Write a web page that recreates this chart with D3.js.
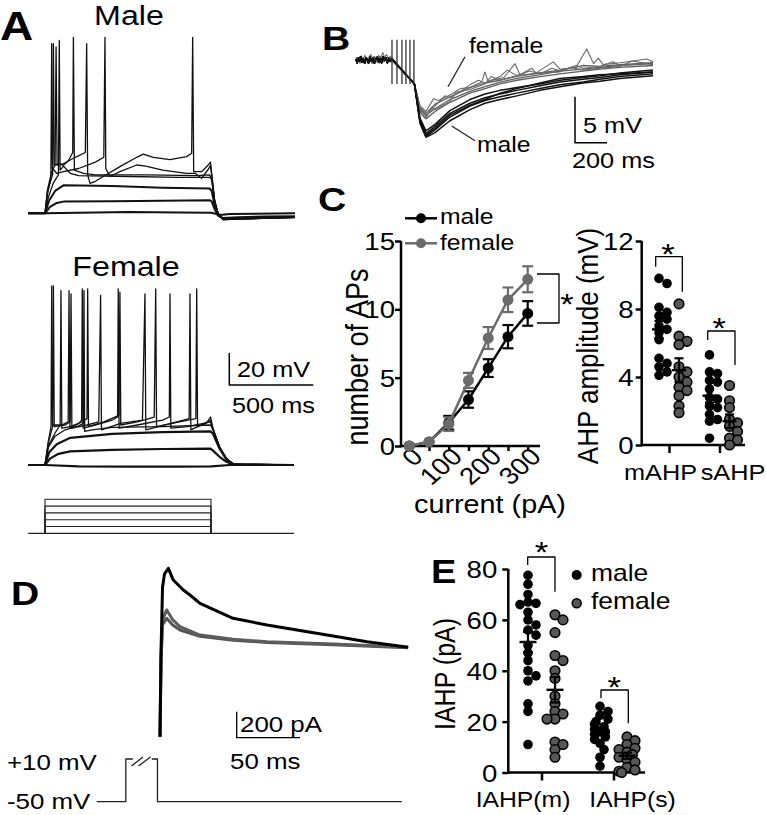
<!DOCTYPE html>
<html><head><meta charset="utf-8">
<script src="https://cdn.jsdelivr.net/npm/d3@7/dist/d3.min.js"></script>
<style>
body{margin:0;background:#fff}
svg text{font-family:"Liberation Sans",Arial,Helvetica,sans-serif;fill:#000}
</style>
</head><body>
<svg id="c" width="766" height="815"></svg>
<script>
// ================= DATA =================
// Panel A: current-clamp traces, [time ms, mV above rest]
const aMaleTraces = [
  [[-100,0],[0,0],[200,0.3],[500,0.8],[800,0.5],[990,0.3],[1040,-1],[1100,-0.5],[1488,0]],
  [[-100,0],[0,0],[30,4],[70,6.5],[110,7.3],[400,7.6],[700,7.8],[980,8.2],[992,7.5],[1010,2.5],[1030,-1.5],[1060,-3],[1150,-2.5],[1300,-2],[1488,-1.8]],
  [[-100,0],[0,0],[25,8],[60,14],[110,17.5],[400,17],[700,16],[980,15.5],[992,14],[1010,5],[1030,-1],[1060,-3.5],[1200,-3],[1488,-2.5]],
  [[-100,0],[0,0],[20,10],[50,19],[80,24],[85,108],[90,27],[110,29.5],[150,25],[200,23.5],[500,23],[800,22.5],[980,22.5],[992,21],[1010,7],[1030,0],[1060,-3.5],[1200,-3],[1488,-2.5]],
  [[-100,0],[0,0],[15,12],[35,22],[40,106],[44,28],[70,25],[110,26],[200,28],[300,32],[350,35],[357,110],[362,28],[387,23],[446,26],[546,30.2],[600,29.5],[700,27],[843,25],[893,25],[932,21.9],[975,28],[985,30],[992,24],[1010,8],[1030,0],[1060,-4],[1488,-2.5]],
  [[-100,0],[0,0],[15,14],[45,24],[50,106],[55,30],[80,31],[110,30],[140,33],[165,38],[169,110],[175,27],[230,25],[268,24.5],[300,24],[600,24],[900,23.5],[980,24],[992,22],[1010,7],[1030,0],[1060,-4],[1488,-2.5]],
  [[-100,0],[0,0],[15,15],[40,26],[60,30],[66,104],[72,30],[110,31],[180,35],[240,38],[248,106],[254,24],[268,18.7],[300,20],[347,23],[446,29.2],[546,35],[585,37],[645,35],[744,33.5],[843,35.4],[873,37.5],[879,110],[885,26],[932,26],[970,30],[985,32],[992,25],[1010,8],[1030,0],[1060,-4],[1488,-2.5]]
];
const aFemaleTraces = [
  [[-100,0],[0,0],[200,-0.8],[500,-1],[800,-1],[990,-0.8],[1100,0],[1482,0]],
  [[-100,0],[0,0],[30,4],[80,7],[150,8.5],[400,9.5],[700,10],[985,10.2],[1000,9],[1040,5],[1080,2],[1120,0.3],[1482,0]],
  [[-100,0],[0,0],[25,8],[70,13],[150,17],[400,19.5],[700,20.5],[985,21],[1000,19.5],[1040,10],[1080,3.5],[1121,0.5],[1200,0],[1482,0]],
  [[-100,0],[0,0],[20,11],[60,18],[120,22],[200,24.5],[228,26],[232,109],[236,21],[280,22],[400,23.5],[700,24],[985,25],[1000,22],[1040,11],[1080,4],[1121,0.5],[1482,0]],
  [[-100,0],[0,0],[20,12],[60,20],[90,25],[95,109],[100,23],[150,24],[200,26],[218,28],[222,110],[227,23],[300,25],[400,28],[432,30],[436,110],[441,23],[550,25],[700,28],[740,30],[744,107],[749,23],[850,24],[985,27],[1000,22],[1040,11],[1080,4],[1121,0.5],[1482,0]],
  [[-100,0],[0,0],[20,14],[45,24],[50,112],[55,24],[120,25],[150,27],[155,107],[160,23],[250,25],[320,27],[331,106],[336,22],[450,26],[580,28],[595,107],[600,22],[750,26],[858,29],[863,107],[868,22],[950,26],[985,28],[1000,22],[1040,11],[1080,4],[1121,0.5],[1482,0]],
  [[-100,0],[0,0],[20,15],[36,24],[40,112],[45,25],[100,25],[138,27],[143,109],[148,23],[220,27],[250,29],[254,110],[259,24],[350,27],[440,31],[446,108],[451,25],[550,27],[650,30],[659,110],[664,24],[800,27],[898,29],[903,110],[908,24],[960,26],[985,30],[1000,23],[1040,11],[1080,4],[1121,0.5],[1482,0]]
];
const stepCurrents = [50,100,150,200,250];

// Panel B: AHP traces [ms, mV]
const bStimTimes = [0,31,62,87,112,137];
const bTimes = [140,175,212,269,362,487,581,675,781,925,1050,1194,1300,1425,1631];
const bMaleValues = [
  [-2.6,-6.8,-8.3,-7.6,-6.2,-5.0,-4.4,-4.0,-3.6,-3.1,-2.7,-2.4,-2.1,-1.8,-1.5],
  [-2.6,-6.5,-8.0,-7.2,-5.8,-4.7,-4.1,-3.7,-3.3,-2.8,-2.4,-2.1,-1.9,-1.6,-1.3],
  [-2.6,-6.9,-8.4,-7.9,-6.6,-5.4,-4.7,-4.3,-3.9,-3.3,-2.9,-2.5,-2.3,-2.0,-1.7],
  [-2.6,-6.3,-7.7,-7.0,-5.5,-4.3,-3.7,-3.3,-3.0,-2.6,-2.2,-1.9,-1.7,-1.4,-1.1],
  [-2.6,-6.6,-8.2,-7.4,-6.0,-4.9,-4.3,-3.6,-3.1,-2.5,-2.0,-1.8,-1.6,-1.5,-1.3]
];
const bFemaleValues = [
  [-2.6,-5.4,-6.0,-5.3,-4.3,-3.4,-2.9,-2.4,-2.0,-1.6,-1.2,-1.0,-0.8,-0.6,-0.4],
  [-2.6,-5.7,-6.4,-5.6,-4.6,-3.6,-3.1,-2.6,-2.2,-1.8,-1.5,-1.2,-1.0,-0.8,-0.6],
  [-2.6,-5.2,-5.8,-4.8,-4.0,-3.0,-2.5,-2.2,-1.7,-1.4,-1.1,-0.6,-0.7,-0.5,-0.3]
];
const bBaseline = [[-225,0.1],[-218,-0.3],[-211,0.2],[-204,-0.1],[-196,0.35],[-188,-0.25],[-180,0.15],[-171,-0.35],[-163,0.25],[-154,0.05],[-146,-0.3],[-137,0.3],[-128,-0.15],[-119,0.2],[-110,-0.35],[-101,0.1],[-92,0.3],[-83,-0.2],[-74,0.15],[-65,-0.3],[-56,0.35],[-47,-0.05],[-38,0.25],[-29,-0.3],[-20,0.2],[-11,-0.15],[0,0.1]];
const bFemaleNoisy = [
  [[-225,-0.2],[-214,0.3],[-205,-0.1],[-192,0.45],[-181,0.0],[-170,0.5],[-158,-0.1],[-146,0.3],[-133,0.6],[-121,0.1],[-108,0.4],[-96,-0.2],[-84,0.5],[-71,0.2],[-58,0.8],[-46,0.3],[-34,0.6],[-22,0.1],[-10,0.4],[0,0.2],[140,-2.6],[175,-5.0],[212,-5.6],[260,-4.2],[290,-4.4],[362,-3.8],[430,-3.1],[487,-3.0],[560,-2.4],[581,-1.3],[600,-2.3],[700,-1.9],[769,-0.4],[800,-1.6],[873,-0.9],[900,-1.4],[1008,-0.2],[1050,-1.0],[1150,-0.8],[1217,1.2],[1260,-0.4],[1289,0.2],[1320,-0.5],[1425,-0.3],[1592,0.1],[1631,-0.2]],
  [[-225,0.3],[-210,-0.2],[-198,0.4],[-186,0.1],[-173,-0.3],[-161,0.3],[-149,-0.1],[-136,0.2],[-124,-0.4],[-112,0.3],[-99,0.0],[-87,-0.3],[-75,0.4],[-62,0.1],[-50,-0.2],[-37,0.3],[-25,-0.1],[-12,0.2],[0,0],[140,-2.6],[175,-5.3],[212,-6.1],[269,-5.0],[330,-3.9],[362,-4.1],[430,-3.4],[487,-2.7],[540,-2.2],[581,-2.5],[675,-1.8],[720,-1.1],[781,-1.7],[860,-1.2],[925,-1.5],[1000,-0.9],[1050,-1.2],[1150,-0.6],[1194,-0.9],[1300,-0.7],[1380,-0.2],[1425,-0.6],[1631,-0.3]],
  [[-225,-0.1],[-212,0.2],[-200,-0.35],[-188,0.25],[-176,-0.2],[-163,0.1],[-151,-0.4],[-139,0.15],[-126,-0.2],[-114,0.35],[-102,-0.1],[-89,0.1],[-77,-0.35],[-65,0.2],[-52,-0.1],[-40,0.3],[-27,-0.25],[-14,0.1],[0,-0.1],[140,-2.6],[175,-5.6],[212,-6.3],[250,-5.1],[269,-5.4],[362,-4.5],[400,-3.5],[487,-3.2],[581,-2.6],[620,-1.8],[675,-2.2],[781,-1.8],[925,-1.4],[1050,-1.3],[1120,-0.8],[1194,-1.1],[1300,-0.9],[1425,-0.7],[1500,-0.1],[1631,-0.5]]
];

// Panel C (left): number of APs vs current
const currents = [0,50,100,150,200,250,300];
const apMaleMean = [0,0.3,1.7,3.4,5.7,8.0,9.7];
const apMaleSem = [0,0.1,0.5,0.6,0.65,0.85,0.9];
const apFemaleMean = [0,0.3,1.6,4.8,7.9,10.7,12.2];
const apFemaleSem = [0,0.1,0.5,0.55,0.8,0.9,0.95];
const apTicks = [0,5,10,15];
const currentTickLabels = [0,100,200,300];

// Panel C (right): AHP amplitude (mV)
const ahpCategories = ["mAHP","sAHP"];
const mAHPMale = [9.8,9.5,8.1,7.8,7.6,7.4,7.0,6.8,6.6,6.2,5.1,4.8,4.6,4.3,4.1];
const mAHPFemale = [8.3,6.4,6.1,5.9,4.6,4.3,4.0,3.7,3.4,3.2,2.9,2.3,1.9];
const sAHPMale = [5.3,4.3,4.2,3.8,3.7,3.3,2.8,2.7,2.3,2.2,1.8,1.5,1.4,0.4];
const sAHPFemale = [3.5,2.6,2.2,1.5,1.3,1.1,0.8,0.4,0.3,0.0];
const ahpMean = [6.8,4.4,2.9,1.4];
const ahpSem = [0.5,0.7,0.4,0.4];
const ahpTicks = [0,4,8,12];

// Panel D: IAHP current traces [ms, pA]
const dMale = [[0,0],[0.8,650],[2,1150],[3.5,1250],[6.6,1295],[10.5,1205],[18.4,1128],[23.7,1090],[31.6,1026],[57.7,911],[84.5,859],[136.7,775],[163.5,731],[196,688]];
const dFemale1 = [[0,0],[0.8,600],[2,900],[5.3,975],[10,900],[15.8,846],[31.6,782],[57.7,749],[84.5,731],[136.7,713],[196,688]];
const dFemale2 = [[0,0],[0.8,580],[2,860],[5.3,911],[10,860],[15.8,821],[31.6,772],[57.7,742],[84.5,725],[136.7,708],[196,685]];
const dProtocolA = [[-50,-50],[-27,-50],[-27,10],[-21.5,10]];
const dProtocolB = [[-6.5,10],[-2,10],[-2,-50],[191,-50]];

// Panel E: IAHP (pA)
const iahpCategories = ["IAHP(m)","IAHP(s)"];
const iahpMMale = [77.5,74,70,67,66.5,66,63,60,58,56,54,50,47,44,40,38,36,27,24,11];
const iahpMFemale = [62,60,55,46,44,40,37,30,27,24,23,21,21,12,11,9,6];
const iahpSMale = [26,24,22.5,21,20,19,18,17,16,15,14,13,11.5,9,6,2.5];
const iahpSFemale = [14,12.5,11,9.5,9,8,7,6,5,4,2,1,0.5,0];
const iahpMean = [51.3,32.5,16,6.6];
const iahpSem = [4,5,1.5,1.2];
const iahpTicks = [0,20,40,60,80];

// ================= DRAWING =================
const SX = 1.15;
const GRAY = "#5e5e5e";
const svg = d3.select("#c");

function txt(g, x, y, s, size, o = {}) {
  const t = g.append("text")
    .attr("transform", `translate(${x},${y}) scale(${SX},1)` + (o.rot ? ` rotate(${o.rot})` : ""))
    .attr("font-size", size)
    .attr("text-anchor", o.anchor || "start")
    .text(s);
  if (o.weight) t.attr("font-weight", o.weight);
  if (o.fill) t.style("fill", o.fill);
  return t;
}
function star(g, cx, cy) { txt(g, cx, cy + 17, "*", 30, {anchor: "middle"}); }
function seg(g, x1, y1, x2, y2, w = 1.2, c = "#000") {
  g.append("line").attr("x1", x1).attr("y1", y1).attr("x2", x2).attr("y2", y2)
    .attr("stroke", c).attr("stroke-width", w);
}
function path(g, d, w, c) {
  return g.append("path").attr("d", d).attr("fill", "none").attr("stroke", c)
    .attr("stroke-width", w).attr("stroke-linejoin", "round");
}
function styleAxis(ax, size) {
  ax.selectAll("path.domain").remove();
  ax.selectAll(".tick line").attr("stroke", "#000").attr("stroke-width", 2.5);
  ax.selectAll(".tick text").attr("font-size", size).style("font-family", '"Liberation Sans",Arial,sans-serif');
}
function stretchLeftLabels(ax, spacing) {
  ax.selectAll(".tick text").attr("x", -spacing / SX).attr("transform", `scale(${SX},1)`);
}

// ---------- Panel letters ----------
txt(svg, 0, 40, "A", 40, {weight: "bold"});
txt(svg, 322, 50, "B", 34, {weight: "bold"});
txt(svg, 318, 211, "C", 34, {weight: "bold"});
txt(svg, 11, 605, "D", 34, {weight: "bold"});
txt(svg, 431, 583, "E", 33, {weight: "bold"});

// ---------- Panel A ----------
const gA = svg.append("g");
const xA = d3.scaleLinear().domain([0, 1000]).range([45, 213]);
const yAm = d3.scaleLinear().domain([0, 100]).range([213.3, 53.3]);
const yAf = d3.scaleLinear().domain([0, 100]).range([465, 305]);
txt(gA, 129, 25, "Male", 28, {anchor: "middle"});
txt(gA, 126, 276, "Female", 28, {anchor: "middle"});
const lineAm = d3.line().x(d => xA(d[0])).y(d => yAm(d[1]));
const lineAf = d3.line().x(d => xA(d[0])).y(d => yAf(d[1]));
aMaleTraces.forEach((tr, i) => path(gA, lineAm(tr), i < 3 ? 2 : 1.3, "#111"));
aFemaleTraces.forEach((tr, i) => path(gA, lineAf(tr), i < 3 ? 2.2 : 1.3, "#111"));
const yP = d3.scaleLinear().domain([0, 250]).range([533.3, 499.3]);
seg(gA, xA(-100), yP(0), xA(1482), yP(0), 1.2, "#222");
stepCurrents.forEach(c => {
  path(gA, `M${xA(0)},${yP(0)}V${yP(c)}H${xA(988)}V${yP(0)}`, 1.1, "#222");
});
{
  const x0 = 229.3, y0 = 385;
  path(gA, `M${x0},${y0 - Math.abs(yAf(0) - yAf(20))}V${y0}H${x0 + xA(500) - xA(0)}`, 1.5, "#000");
  txt(gA, 237, 376.7, "20 mV", 22);
  txt(gA, 232, 412.7, "500 ms", 22);
}

// ---------- Panel B ----------
const gB = svg.append("g");
const xB = d3.scaleLinear().domain([0, 1000]).range([392, 552]);
const yB = d3.scaleLinear().domain([0, -10]).range([60, 152]);
const lineB = d3.line().x(d => xB(d[0])).y(d => yB(d[1]));
bFemaleValues.forEach(vals => path(gB, lineB(bBaseline.concat(bTimes.map((t, i) => [t, vals[i]]))), 1.3, GRAY));
bFemaleNoisy.forEach(tr => path(gB, lineB(tr), 1.1, "#6a6a6a"));
bMaleValues.forEach(vals => path(gB, lineB(bBaseline.concat(bTimes.map((t, i) => [t, vals[i]]))), 1.5, "#111"));
bStimTimes.forEach(t => seg(gB, xB(t), yB(2.2), xB(t), yB(-2.6), 1.3, "#333"));
seg(gB, 465, 56.7, 448, 86.7, 1.3, "#222");
seg(gB, 451.7, 126, 475, 140.7, 1.3, "#222");
txt(gB, 469, 53, "female", 21.5);
txt(gB, 477, 151.5, "male", 21.5);
{
  const x0 = 575, y0 = 142.7;
  path(gB, `M${x0},${y0 - Math.abs(yB(0) - yB(-5))}V${y0}H${x0 + xB(200) - xB(0)}`, 1.5, "#000");
  txt(gB, 583, 133.3, "5 mV", 22);
  txt(gB, 572, 168.3, "200 ms", 22);
}

// ---------- Panel C left ----------
const gC = svg.append("g");
const xC = d3.scaleLinear().domain([0, 300]).range([409.3, 527.7]);
const yC = d3.scaleLinear().domain([0, 15]).range([446, 241]);
seg(gC, 401, yC(15), 401, yC(0) + 1.25, 2.5);
seg(gC, 401, yC(0), 540, yC(0), 2.5);
const axCy = gC.append("g").attr("transform", "translate(401,0)")
  .call(d3.axisLeft(yC).tickValues(apTicks).tickSize(6).tickPadding(0).tickFormat(d3.format("d")));
styleAxis(axCy, 24); stretchLeftLabels(axCy, 6);
axCy.selectAll(".tick text").attr("dy", "0.36em");
const axCx = gC.append("g").attr("transform", `translate(0,${yC(0)})`)
  .call(d3.axisBottom(xC).tickValues(currents).tickSize(5).tickFormat(""));
styleAxis(axCx, 24);
currentTickLabels.forEach(v => txt(gC, xC(v) + 15, yC(0) + 12, String(v), 24, {anchor: "end", rot: -45}));
txt(gC, 490, 513, "current (pA)", 25, {anchor: "middle"});
txt(gC, 368, 357, "number of APs", 27, {anchor: "middle", rot: -90});
function apSeries(means, sems, color) {
  const pts = currents.map((c, i) => [c, means[i], sems[i]]);
  path(gC, d3.line().x(d => xC(d[0])).y(d => yC(d[1]))(pts), 2.5, color);
  pts.forEach(d => {
    if (d[2] > 0.2) {
      seg(gC, xC(d[0]), yC(d[1] - d[2]), xC(d[0]), yC(d[1] + d[2]), 2.2, color);
      seg(gC, xC(d[0]) - 5.5, yC(d[1] + d[2]), xC(d[0]) + 5.5, yC(d[1] + d[2]), 2.2, color);
      seg(gC, xC(d[0]) - 5.5, yC(d[1] - d[2]), xC(d[0]) + 5.5, yC(d[1] - d[2]), 2.2, color);
    }
    gC.append("circle").attr("cx", xC(d[0])).attr("cy", yC(d[1])).attr("r", 5.5).attr("fill", color);
  });
}
apSeries(apMaleMean, apMaleSem, "#000");
apSeries(apFemaleMean, apFemaleSem, "#6b6b6b");
[["male", "#000", 218.3, 223.5], ["female", "#6b6b6b", 243.3, 250]].forEach(([lab, col, ly, ty]) => {
  seg(gC, 405, ly, 437, ly, 2.5, col);
  gC.append("circle").attr("cx", 421).attr("cy", ly).attr("r", 5).attr("fill", col);
  txt(gC, 440, ty, lab, 21.5);
});
path(gC, `M537,274H559V323H537`, 1.3, "#000");
star(gC, 567, 297);

// ---------- beeswarm helper ----------
function swarm(values, yS, cx, minD, step, maxOff) {
  const placed = [];
  values.slice().sort((a, b) => b - a).forEach(v => {
    const y = yS(v);
    let best = null;
    for (let k = 0; k <= 8; k++) {
      const cands = k === 0 ? [0] : [k * step, -k * step];
      for (const off of cands) {
        if (Math.abs(off) > maxOff) continue;
        const ok = placed.every(p => Math.hypot(p.x - (cx + off), p.y - y) >= minD);
        if (ok) { best = off; break; }
      }
      if (best !== null) break;
    }
    if (best === null) best = (placed.length % 2 ? -1 : 1) * maxOff * 0.6;
    placed.push({x: cx + best, y});
  });
  return placed;
}
function dots(g, pts, r, female) {
  pts.forEach(p => g.append("circle").attr("cx", p.x).attr("cy", p.y).attr("r", r)
    .attr("fill", female ? "#575757" : "#000").attr("stroke", "#000").attr("stroke-width", female ? 1.6 : 0));
}
function meanSem(g, cx, yS, m, s, half, cap) {
  seg(g, cx - half, yS(m), cx + half, yS(m), 2.4);
  seg(g, cx, yS(m - s), cx, yS(m + s), 2.2);
  seg(g, cx - cap, yS(m + s), cx + cap, yS(m + s), 2.2);
  seg(g, cx - cap, yS(m - s), cx + cap, yS(m - s), 2.2);
}

// ---------- Panel C right ----------
const gR = svg.append("g");
const yR = d3.scaleLinear().domain([0, 12]).range([445, 241]);
const xR = d3.scalePoint().domain(ahpCategories).range([669, 719.5]);
seg(gR, 641.7, yR(12), 641.7, yR(0) + 1.25, 2.5);
seg(gR, 641.7, yR(0), 745, yR(0), 2.5);
const axRy = gR.append("g").attr("transform", "translate(641.7,0)")
  .call(d3.axisLeft(yR).tickValues(ahpTicks).tickSize(6).tickPadding(2).tickFormat(d3.format("d")));
styleAxis(axRy, 24); stretchLeftLabels(axRy, 8);
axRy.selectAll(".tick text").attr("dy", "0.36em");
const axRx = gR.append("g").attr("transform", `translate(0,${yR(0)})`)
  .call(d3.axisBottom(xR).tickSize(8).tickFormat(""));
styleAxis(axRx, 22);
txt(gR, 660.5, 480, ahpCategories[0], 22, {anchor: "middle"});
txt(gR, 733, 480, ahpCategories[1], 22, {anchor: "middle"});
txt(gR, 598, 346, "AHP amplitude (mV)", 26, {anchor: "middle", rot: -90});
const ahpGroups = [[mAHPMale, 0, -10, false], [mAHPFemale, 0, 10, true], [sAHPMale, 1, -10, false], [sAHPFemale, 1, 10, true]];
ahpGroups.forEach(([vals, ci, off, fem], gi) => {
  const cx = xR(ahpCategories[ci]) + off;
  dots(gR, swarm(vals, yR, cx, 6.5, 4, 8), 4.8, fem);
  meanSem(gR, cx, yR, ahpMean[gi], ahpSem[gi], 7, 4.5);
});
path(gR, `M655.7,266.7V256.7H682.3V291.7`, 1.3, "#000");
star(gR, 668, 246.7);
path(gR, `M707.7,340V331H735V365`, 1.3, "#000");
star(gR, 719.3, 321);

// ---------- Panel D ----------
const gD = svg.append("g");
const xD = d3.scaleLinear().domain([0, 50]).range([160, 223.3]);
const yD = d3.scaleLinear().domain([0, 1000]).range([736.7, 606.7]);
const lineD = d3.line().x(d => xD(d[0])).y(d => yD(d[1]));
path(gD, lineD(dFemale2), 3, "#555");
path(gD, lineD(dFemale1), 3, "#5c5c5c");
path(gD, lineD(dMale), 3, "#000");
const yV = d3.scaleLinear().domain([-50, 10]).range([801.7, 759]);
const lineV = d3.line().x(d => xD(d[0])).y(d => yV(d[1]));
path(gD, lineV(dProtocolA), 1.3, "#222");
path(gD, lineV(dProtocolB), 1.3, "#222");
seg(gD, 131.5, 766, 143, 757, 1.3, "#222");
seg(gD, 138.5, 766, 150.5, 757, 1.3, "#222");
txt(gD, 7, 770, "+10 mV", 22.5);
txt(gD, 7, 809, "-50 mV", 22.5);
{
  const x0 = 236.7, y0 = 737.7;
  path(gD, `M${x0},${y0 - Math.abs(yD(0) - yD(200))}V${y0}H${x0 + xD(50) - xD(0)}`, 1.3, "#000");
  txt(gD, 240, 731.7, "200 pA", 22.5);
  txt(gD, 230, 769.3, "50 ms", 22.5);
}

// ---------- Panel E ----------
const gE = svg.append("g");
const yE = d3.scaleLinear().domain([0, 80]).range([772.5, 569]);
const xE = d3.scalePoint().domain(iahpCategories).range([541.5, 613.5]);
seg(gE, 508.3, yE(80), 508.3, yE(0) + 1.25, 2.5);
seg(gE, 508.3, yE(0), 645, yE(0), 2.5);
const axEy = gE.append("g").attr("transform", "translate(508.3,0)")
  .call(d3.axisLeft(yE).tickValues(iahpTicks).tickSize(6).tickPadding(5).tickFormat(d3.format("d")));
styleAxis(axEy, 24); stretchLeftLabels(axEy, 11);
axEy.selectAll(".tick text").attr("dy", "0.36em");
const axEx = gE.append("g").attr("transform", `translate(0,${yE(0)})`)
  .call(d3.axisBottom(xE).tickSize(8).tickFormat(""));
styleAxis(axEx, 22);
txt(gE, 523, 806.7, iahpCategories[0], 21.5, {anchor: "middle"});
txt(gE, 632.5, 806.7, iahpCategories[1], 21.5, {anchor: "middle"});
txt(gE, 455, 674, "IAHP (pA)", 25, {anchor: "middle", rot: -90});
const iahpGroups = [[iahpMMale, 0, -13.5, false], [iahpMFemale, 0, 13.5, true], [iahpSMale, 1, -13.5, false], [iahpSFemale, 1, 13.5, true]];
iahpGroups.forEach(([vals, ci, off, fem], gi) => {
  const cx = xE(iahpCategories[ci]) + off;
  dots(gE, swarm(vals, yE, cx, 6.5, 4, 9), 4.8, fem);
  meanSem(gE, cx, yE, iahpMean[gi], iahpSem[gi], 8.5, 5);
});
path(gE, `M527.7,565V557H555V591.7`, 1.3, "#000");
star(gE, 541.5, 545);
path(gE, `M601,698.3V690H628.3V723.3`, 1.3, "#000");
star(gE, 614.3, 680);
gE.append("circle").attr("cx", 576.7).attr("cy", 575).attr("r", 5).attr("fill", "#000");
gE.append("circle").attr("cx", 576.7).attr("cy", 603.3).attr("r", 4.5).attr("fill", "#575757").attr("stroke", "#000").attr("stroke-width", 1.5);
txt(gE, 591, 581, "male", 23);
txt(gE, 591, 609, "female", 23);
</script>
</body></html>
